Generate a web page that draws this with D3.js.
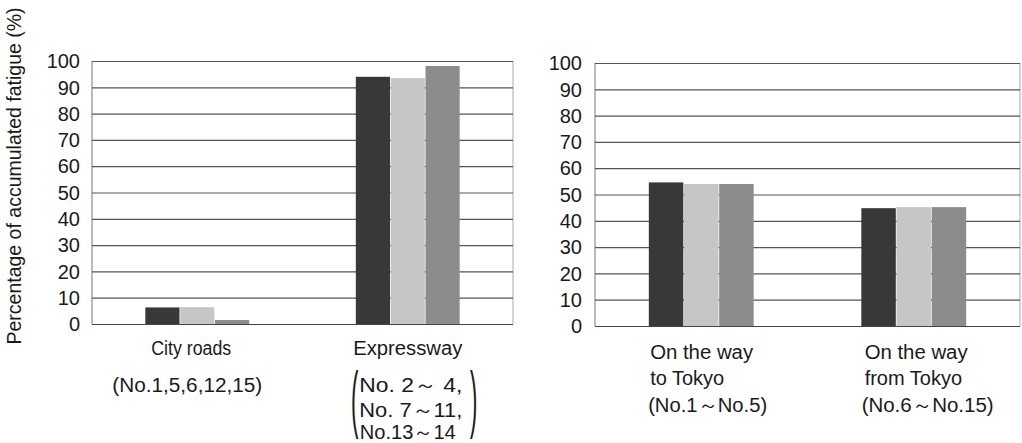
<!DOCTYPE html>
<html><head><meta charset="utf-8">
<script src="https://cdn.jsdelivr.net/npm/d3@7"></script>
<style>body{margin:0;background:#fff}svg{display:block}text{font-family:"Liberation Sans",Arial,sans-serif;fill:#1a1a1a}</style>
</head><body><svg id="c" width="1022" height="443"></svg>
<script>
const series = ["s1","s2","s3"];
const colors = ["#383838","#c6c6c6","#8c8c8c"];
const leftCategories = ["City roads","Expressway"];
const leftValues = [[6.3,6.4,1.5],[94.0,93.5,98.1]];
const rightCategories = ["On the way to Tokyo","On the way from Tokyo"];
const rightValues = [[54.6,54.0,54.0],[44.8,45.2,45.2]];
const yTicks = [0,10,20,30,40,50,60,70,80,90,100];
const yTitle = "Percentage of accumulated fatigue (%)";

const svg = d3.select("#c");

function panel(x0,x1,yb,yt,cats,vals,labelX){
  const g = svg.append("g");
  const x = d3.scaleBand().domain(cats).range([x0,x1]).paddingInner(0.5).paddingOuter(0.25);
  const xs = d3.scaleBand().domain(series).range([0,x.bandwidth()]).padding(0.02);
  const y = d3.scaleLinear().domain([0,100]).range([yb,yt]);
  g.append("line").attr("x1",x0).attr("x2",x0).attr("y1",yt).attr("y2",yb).attr("stroke","#777");
  g.append("line").attr("x1",x1).attr("x2",x1).attr("y1",yt).attr("y2",yb).attr("stroke","#aaa");
  g.selectAll(".gl").data(yTicks).join("line")
    .attr("x1",x0).attr("x2",x1).attr("y1",d=>y(d)+0.5).attr("y2",d=>y(d)+0.5)
    .attr("stroke",d=>d===0?"#444":"#555").attr("stroke-width",1.2);
  g.selectAll(".tl").data(yTicks).join("text")
    .attr("x",labelX).attr("y",d=>y(d)).attr("dy","0.36em").attr("text-anchor","end")
    .style("font-size","20px").text(d=>d);
  cats.forEach((c,i)=>{
    g.selectAll(null).data(vals[i]).join("rect")
      .attr("x",(d,j)=>x(c)+xs(series[j])).attr("width",xs.bandwidth())
      .attr("y",d=>y(d)).attr("height",d=>y(0)-y(d))
      .attr("fill",(d,j)=>colors[j]);
  });
  return x;
}

const xl = panel(92,513,324,61,leftCategories,leftValues,80);
const xr = panel(595,1020,326,63,rightCategories,rightValues,582);

svg.append("text").attr("transform","translate(21,176) rotate(-90)")
  .attr("text-anchor","middle").style("font-size","19.5px").text(yTitle);

function lbl(txt,x,y,anchor,len){
  const t = svg.append("text").attr("x",x).attr("y",y).attr("dy","0.35em")
    .attr("text-anchor",anchor).style("font-size","20px").text(txt);
  if(len) t.attr("textLength",len).attr("lengthAdjust","spacingAndGlyphs");
  return t;
}
const cx1 = xl("City roads")+xl.bandwidth()/2;
const cx2 = xl("Expressway")+xl.bandwidth()/2;
lbl("City roads",cx1-6,348,"middle",80);
lbl("(No.1,5,6,12,15)",cx1-10,385,"middle",150);
lbl("Expressway",cx2,348,"middle",109);
lbl("No.  2～ 4,",cx2+3,385,"middle",103);
lbl("No.  7～11,",cx2+3,410,"middle",103);
lbl("No.13～14",cx2,432,"middle",96);
svg.append("text").attr("transform",`translate(${cx2-53},424) scale(0.3,1)`)
  .attr("text-anchor","middle").style("font-size","74px").text("(");
svg.append("text").attr("transform",`translate(${cx2+66},424) scale(0.3,1)`)
  .attr("text-anchor","middle").style("font-size","74px").text(")");
const r1 = xr("On the way to Tokyo");
const r2 = xr("On the way from Tokyo");
lbl("On the way",r1+2,352,"start",103);
lbl("to Tokyo",r1+2,378,"start");
lbl("(No.1～No.5)",r1,405,"start",119);
lbl("On the way",r2+4,352,"start",103);
lbl("from Tokyo",r2+4,378,"start");
lbl("(No.6～No.15)",r2+1,405,"start",132);
</script></body></html>
